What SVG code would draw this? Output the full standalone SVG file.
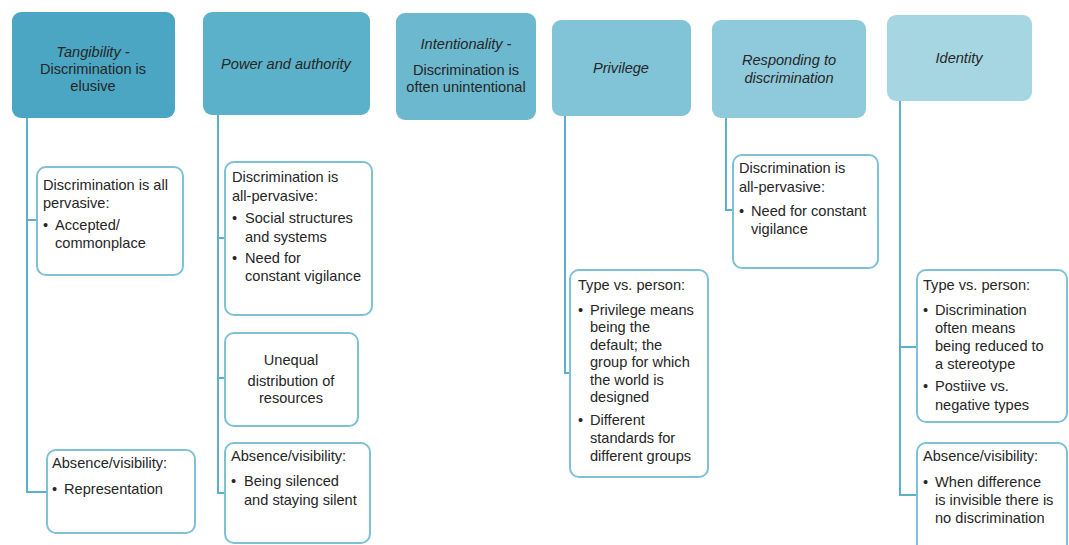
<svg xmlns="http://www.w3.org/2000/svg" width="1069" height="545" viewBox="0 0 1069 545">
<style>
text{font-family:"Liberation Sans","Open Sans",sans-serif;font-size:14.6px;fill:#262626}
.c{text-anchor:middle}
.i{font-style:italic}
.box{fill:#fff;stroke:#7cc1d5;stroke-width:2}
.ln{fill:none;stroke:#5cb0c9;stroke-width:2}
</style>
<rect width="1069" height="545" fill="#fff"/>
<g id="connectors">
<path class="ln" d="M27 118V492H47M27 220H37"/>
<path class="ln" d="M218 115V493H225M218 238H225M218 378H225"/>
<path class="ln" d="M565 116V373H570"/>
<path class="ln" d="M726 118V210H733"/>
<path class="ln" d="M900 101V495H917M900 347H917"/>
</g>
<g id="h1"><rect x="12" y="12" width="163" height="106" rx="9" fill="#4aa6c2"/>
<text class="c" x="93" y="57"><tspan class="i">Tangibility -</tspan><tspan x="93" dy="17">Discrimination is</tspan><tspan x="93" dy="17">elusive</tspan></text></g>
<g id="h2"><rect x="203" y="12" width="167" height="103" rx="9" fill="#5cb1ca"/>
<text class="c i" x="286" y="69">Power and authority</text></g>
<g id="h3"><rect x="396" y="13" width="140" height="107" rx="9" fill="#6cb9cf"/>
<text class="c" x="466" y="49"><tspan class="i">Intentionality -</tspan><tspan x="466" dy="26">Discrimination is</tspan><tspan x="466" dy="17">often unintentional</tspan></text></g>
<g id="h4"><rect x="552" y="20" width="139" height="96" rx="9" fill="#81c3d7"/>
<text class="c i" x="621" y="73">Privilege</text></g>
<g id="h5"><rect x="712" y="20" width="154" height="98" rx="9" fill="#8fcadc"/>
<text class="c i" x="789" y="65"><tspan>Responding to</tspan><tspan x="789" dy="18">discrimination</tspan></text></g>
<g id="h6"><rect x="887" y="15" width="145" height="86" rx="9" fill="#a7d6e3"/>
<text class="c i" x="959" y="63">Identity</text></g>

<g id="n1"><rect class="box" x="37" y="167" width="146" height="108" rx="9"/>
<text x="43" y="190">Discrimination is all</text><text x="43" y="208">pervasive:</text>
<text x="43" y="230">•</text><text x="55" y="230">Accepted/</text><text x="55" y="248">commonplace</text></g>
<g id="n2"><rect class="box" x="47" y="450" width="148" height="83" rx="9"/>
<text x="52" y="468">Absence/visibility:</text>
<text x="52" y="494">•</text><text x="64" y="494">Representation</text></g>
<g id="n3"><rect class="box" x="225" y="162" width="147" height="153" rx="9"/>
<text x="232" y="182">Discrimination is</text><text x="232" y="201">all-pervasive:</text>
<text x="232" y="223">•</text><text x="245" y="223">Social structures</text><text x="245" y="242">and systems</text>
<text x="232" y="263">•</text><text x="245" y="263">Need for</text><text x="245" y="281">constant vigilance</text></g>
<g id="n4"><rect class="box" x="225" y="333" width="133" height="93" rx="9"/>
<text class="c" x="291" y="365">Unequal</text><text class="c" x="291" y="386">distribution of</text><text class="c" x="291" y="403">resources</text></g>
<g id="n5"><rect class="box" x="225" y="443" width="145" height="100" rx="9"/>
<text x="231" y="461">Absence/visibility:</text>
<text x="231" y="486">•</text><text x="244" y="486">Being silenced</text><text x="244" y="505">and staying silent</text></g>
<g id="n6"><rect class="box" x="570" y="270" width="138" height="207" rx="9"/>
<text x="578" y="290">Type vs. person:</text>
<text x="578" y="315">•</text><text x="590" y="315">Privilege means</text><text x="590" y="332">being the</text><text x="590" y="350">default; the</text><text x="590" y="367">group for which</text><text x="590" y="385">the world is</text><text x="590" y="402">designed</text>
<text x="578" y="425">•</text><text x="590" y="425">Different</text><text x="590" y="443">standards for</text><text x="590" y="461">different groups</text></g>
<g id="n7"><rect class="box" x="733" y="155" width="145" height="113" rx="9"/>
<text x="739" y="173">Discrimination is</text><text x="739" y="192">all-pervasive:</text>
<text x="739" y="216">•</text><text x="751" y="216">Need for constant</text><text x="751" y="234">vigilance</text></g>
<g id="n8"><rect class="box" x="917" y="270" width="150" height="152" rx="9"/>
<text x="923" y="290">Type vs. person:</text>
<text x="923" y="315">•</text><text x="935" y="315">Discrimination</text><text x="935" y="333">often means</text><text x="935" y="351">being reduced to</text><text x="935" y="369">a stereotype</text>
<text x="923" y="391">•</text><text x="935" y="391">Postiive vs.</text><text x="935" y="410">negative types</text></g>
<g id="n9"><rect class="box" x="917" y="443" width="150" height="110" rx="9"/>
<text x="923" y="461">Absence/visibility:</text>
<text x="923" y="487">•</text><text x="935" y="487">When difference</text><text x="935" y="505">is invisible there is</text><text x="935" y="523">no discrimination</text></g>
</svg>
